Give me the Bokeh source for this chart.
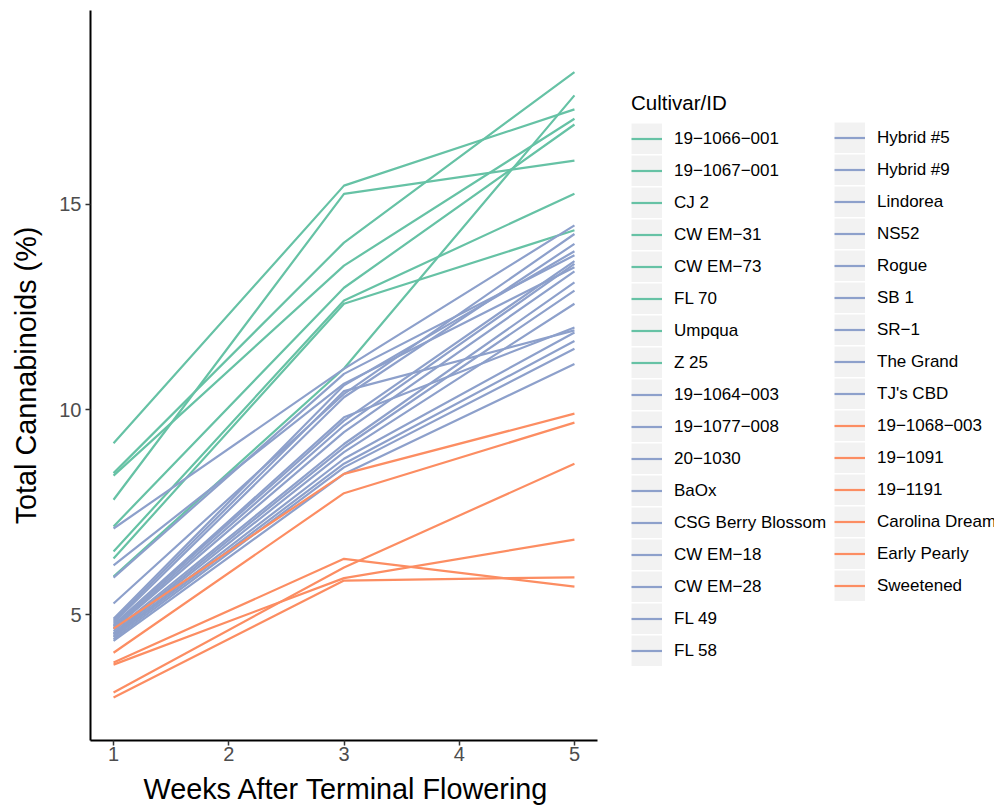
import numpy as np
from bokeh.plotting import figure
from bokeh.models import Legend, LegendItem, Range1d, FixedTicker, Title
from bokeh.embed import file_html
from bokeh.resources import INLINE

M = "\u2212"  # minus sign as rendered in the reference

weeks = [1, 3, 5]

cultivars = [
    f"19{M}1066{M}001", f"19{M}1067{M}001", "CJ 2", f"CW EM{M}31", f"CW EM{M}73",
    "FL 70", "Umpqua", "Z 25",
    f"19{M}1064{M}003", f"19{M}1077{M}008", f"20{M}1030", "BaOx", "CSG Berry Blossom",
    f"CW EM{M}18", f"CW EM{M}28", "FL 49", "FL 58", "Hybrid #5", "Hybrid #9", "Lindorea",
    "NS52", "Rogue", "SB 1", f"SR{M}1", "The Grand", "TJ's CBD",
    f"19{M}1068{M}003", f"19{M}1091", f"19{M}1191", "Carolina Dream", "Early Pearly", "Sweetened",
]

groups = ["g"] * 8 + ["b"] * 18 + ["o"] * 6

week1 = [9.18, 8.45, 8.39, 7.80, 7.15, 6.54, 6.37, 5.93,
         7.10, 6.20, 5.90, 5.27, 4.90, 4.85, 4.80, 4.75, 4.72, 4.68, 4.65, 4.60,
         4.55, 4.52, 4.48, 4.45, 4.40, 4.36,
         4.66, 4.07, 3.83, 3.78, 3.10, 2.98]

week3 = [15.46, 14.07, 13.51, 15.26, 12.97, 12.66, 12.58, 11.00,
         10.99, 10.63, 10.87, 10.38, 10.59, 10.45, 10.30, 9.81, 9.73, 9.61, 9.45, 9.16,
         9.08, 8.96, 8.80, 8.68, 8.59, 8.43,
         8.43, 7.96, 6.36, 5.89, 6.15, 5.83]

week5 = [17.32, 18.23, 17.09, 16.07, 16.95, 15.26, 14.37, 17.66,
         14.49, 13.47, 13.76, 14.28, 13.86, 11.93, 14.04, 12.00, 13.62, 13.55, 13.37, 13.10,
         12.90, 12.58, 11.88, 11.67, 11.48, 11.11,
         9.90, 9.68, 5.68, 6.83, 8.68, 5.91]

y_ticks = [5, 10, 15]
x_ticks = [1, 2, 3, 4, 5]

palette = {"g": "#66C2A5", "b": "#8DA0CB", "o": "#FC8D62"}
FONT = "Liberation Sans"

# The frame spans the legend area too; the x axis line is bounded to the data panel.
X0, X1 = 0.8, 5.2
px_per_unit = 507 / (X1 - X0)
x_end = X0 + 904 / px_per_unit

p = figure(width=994, height=812, output_backend="svg", toolbar_location=None,
           x_range=Range1d(X0, x_end), y_range=Range1d(1.93, 19.73),
           min_border_left=90, min_border_right=0, min_border_top=10, min_border_bottom=72,
           background_fill_color="white", border_fill_color="white")
p.xgrid.visible = False
p.ygrid.visible = False
p.outline_line_color = None

for ax, ticks in ((p.xaxis[0], x_ticks), (p.yaxis[0], y_ticks)):
    ax.ticker = FixedTicker(ticks=ticks)
    ax.minor_tick_line_color = None
    ax.axis_line_color = "black"
    ax.axis_line_width = 2
    ax.major_tick_line_color = "#333333"
    ax.major_tick_line_width = 1.5
    ax.major_tick_out = 5
    ax.major_tick_in = 0
    ax.major_label_text_font = FONT
    ax.major_label_text_font_size = "20px"
    ax.major_label_text_color = "#4D4D4D"
    ax.axis_label_text_font = FONT
    ax.axis_label_text_font_size = "28.8px"
    ax.axis_label_text_font_style = "normal"
    ax.axis_label_text_color = "black"

p.xaxis.bounds = (X0, X1)
p.yaxis.axis_label = "Total Cannabinoids (%)"
p.xaxis.major_label_standoff = 1
p.yaxis.major_label_standoff = 4
p.yaxis.axis_label_standoff = 14

# x axis title, aligned under the data panel (the frame also holds the legend)
x_title = Title(text="Weeks After Terminal Flowering", align="left", offset=53,
                text_font=FONT, text_font_size="28.8px", text_font_style="normal",
                text_color="black", standoff=14)
p.add_layout(x_title, "below")

# background renderer used only for the grey legend key boxes
key_bg = p.line(x=[X0, X0], y=[np.nan, np.nan], line_color="#F2F2F2",
                line_width=31, line_cap="butt")

items = []
for name, grp, a, b, c in zip(cultivars, groups, week1, week3, week5):
    r = p.line(x=weeks, y=[a, b, c], line_color=palette[grp], line_width=2.2)
    items.append(LegendItem(label=name, renderers=[key_bg, r]))

common = dict(glyph_width=31, glyph_height=31, spacing=1, label_standoff=12,
              padding=0, margin=0, border_line_color=None, background_fill_alpha=0,
              label_text_font=FONT, label_text_font_size="17px", label_text_color="black")

leg1 = Legend(items=items[:17], location=(541, 74), title="Cultivar/ID",
              title_text_font=FONT, title_text_font_size="20.5px",
              title_text_font_style="normal", title_text_color="black",
              title_standoff=8, **common)
leg2 = Legend(items=items[17:], location=(744, 139), **common)
p.add_layout(leg1)
p.add_layout(leg2)

open("out.html", "w").write(file_html(p, INLINE))
